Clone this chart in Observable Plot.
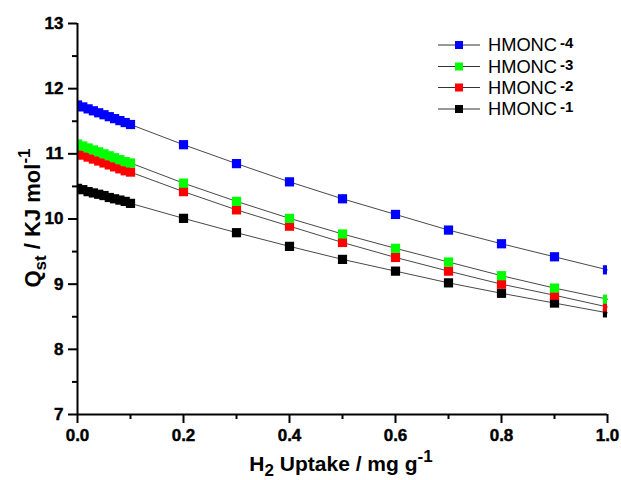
<!DOCTYPE html>
<html><head><meta charset="utf-8">
<script src="https://cdn.jsdelivr.net/npm/d3@7"></script>
<script src="https://cdn.jsdelivr.net/npm/@observablehq/plot@0.6"></script>
<style>
body{margin:0;background:#fff}
#chart svg text{font-weight:bold}
#chart svg g[aria-label$="tick label"] text{stroke:#000;stroke-width:0.45px}
</style>
</head><body><div id="chart"></div>
<script>
const uptake = [0, 0.01, 0.02, 0.03, 0.04, 0.05, 0.06, 0.07, 0.08, 0.09, 0.1, 0.2, 0.3, 0.4, 0.5, 0.6, 0.7, 0.8, 0.9, 1.0];
const series = ["HMONC-1", "HMONC-2", "HMONC-3", "HMONC-4"];
const qst1 = [10.47, 10.45, 10.42, 10.40, 10.38, 10.36, 10.33, 10.31, 10.29, 10.27, 10.24, 10.01, 9.79, 9.58, 9.38, 9.20, 9.02, 8.86, 8.71, 8.56];
const qst2 = [11.01, 10.98, 10.95, 10.92, 10.89, 10.86, 10.83, 10.80, 10.77, 10.74, 10.72, 10.42, 10.14, 9.89, 9.64, 9.41, 9.20, 9.00, 8.83, 8.65];
const qst3 = [11.15, 11.12, 11.09, 11.06, 11.03, 11.00, 10.97, 10.94, 10.91, 10.88, 10.86, 10.55, 10.27, 10.01, 9.77, 9.55, 9.34, 9.13, 8.94, 8.77];
const qst4 = [11.75, 11.72, 11.69, 11.66, 11.63, 11.60, 11.57, 11.54, 11.51, 11.48, 11.45, 11.14, 10.85, 10.57, 10.31, 10.07, 9.83, 9.62, 9.42, 9.22];
const colors = ["#000000", "#ff0000", "#00ff00", "#0000ff"];
const xTicks = [0, 0.2, 0.4, 0.6, 0.8, 1.0];
const xMinor = [0.1, 0.3, 0.5, 0.7, 0.9];
const yTicks = [7, 8, 9, 10, 11, 12, 13];
const yMinor = [7.5, 8.5, 9.5, 10.5, 11.5, 12.5];

const rows = [];
[qst1, qst2, qst3, qst4].forEach((vals, i) =>
  vals.forEach((v, j) => rows.push({series: series[i], x: uptake[j], y: v})));

const font = "Liberation Sans, Arial, Helvetica, sans-serif";
const plot = Plot.plot({
  width: 621, height: 480,
  marginLeft: 77, marginRight: 14, marginTop: 23, marginBottom: 66,
  x: {domain: [0, 1]},
  y: {domain: [7, 13]},
  color: {domain: series, range: colors},
  style: {fontFamily: font, fontSize: "17px", fontWeight: "bold", color: "#000", background: "#fff"},
  marks: [
    Plot.line(rows, {x: "x", y: "y", z: "series", stroke: "#333", strokeWidth: 0.9}),
    Plot.dot(rows, {x: "x", y: "y", fill: "series", symbol: "square", r: 5.2, clip: "frame"}),
    Plot.axisX({ticks: xTicks, tickFormat: d3.format(".1f"), tickSize: 9, tickPadding: 5, strokeWidth: 2, fontSize: 17, fontWeight: "bold", label: null}),
    Plot.axisX({ticks: xMinor, tickSize: 5, text: null, strokeWidth: 2, label: null}),
    Plot.axisY({ticks: yTicks, tickFormat: d => String(d), tickSize: 9, tickPadding: 5, strokeWidth: 2, fontSize: 17, fontWeight: "bold", label: null}),
    Plot.axisY({ticks: yMinor, tickSize: 5, text: null, strokeWidth: 2, label: null}),
    Plot.ruleX([0], {strokeWidth: 2}),
    Plot.ruleY([7], {strokeWidth: 2})
  ]
});
document.getElementById("chart").append(plot);

const svg = d3.select(plot);
// x-axis label
const xl = svg.append("text").attr("x", 341).attr("y", 471).attr("text-anchor", "middle")
  .style("font-family", font).style("font-size", "21px").style("font-weight", "bold").attr("fill", "#000");
xl.append("tspan").text("H");
xl.append("tspan").attr("dy", 5).style("font-size", "17px").text("2");
xl.append("tspan").attr("dy", -5).text(" Uptake / mg g");
xl.append("tspan").attr("dy", -9).style("font-size", "17px").text("-1");

// y-axis label
const yl = svg.append("text").attr("transform", "translate(40,218) rotate(-90)").attr("text-anchor", "middle")
  .style("font-family", font).style("font-size", "22px").style("font-weight", "bold").attr("fill", "#000");
yl.append("tspan").text("Q");
yl.append("tspan").attr("dy", 6).style("font-size", "17px").text("st");
yl.append("tspan").attr("dy", -6).text(" / KJ mol");
yl.append("tspan").attr("dy", -10).style("font-size", "17px").text("-1");

// legend
const legendOrder = [3, 2, 1, 0];
const rowY = [45, 66.5, 87.5, 109];
const lg = svg.append("g");
legendOrder.forEach((si, k) => {
  const y = rowY[k];
  const [name, num] = series[si].split("-");
  lg.append("line").attr("x1", 438).attr("x2", 480).attr("y1", y).attr("y2", y).attr("stroke", "#333").attr("stroke-width", 1);
  lg.append("rect").attr("x", 455).attr("y", y - 4).attr("width", 8).attr("height", 8).attr("fill", colors[si]);
  lg.append("text").attr("x", 488).attr("y", y + 6).attr("text-anchor", "start")
    .attr("textLength", 69).attr("lengthAdjust", "spacingAndGlyphs")
    .style("font-family", font).style("font-size", "17.5px").style("font-weight", "normal").attr("fill", "#000")
    .text(name);
  lg.append("text").attr("x", 560).attr("y", y + 3).attr("text-anchor", "start")
    .style("font-family", font).style("font-size", "15px").style("font-weight", "bold").attr("fill", "#000")
    .text("-" + num);
});
</script>
</body></html>
